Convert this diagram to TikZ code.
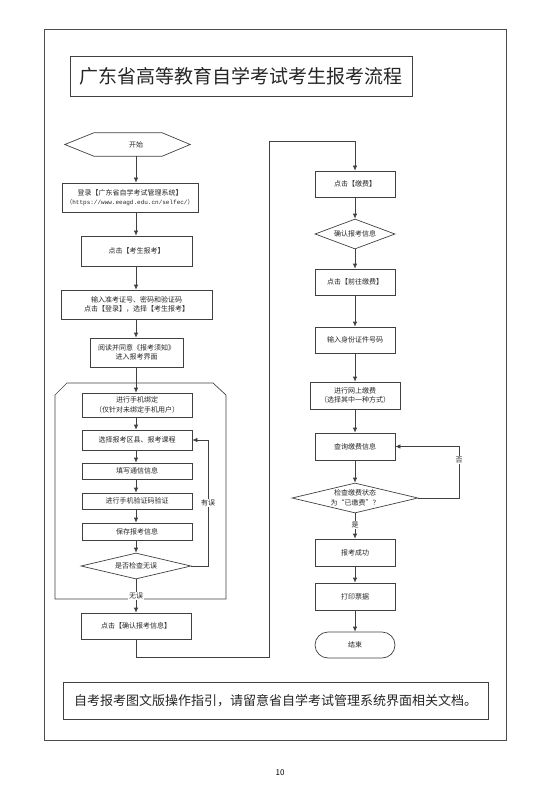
\documentclass[tikz,border=0pt]{standalone}
\usepackage{fontspec}
\setmainfont{Noto Sans CJK SC}
\newfontfamily\urlfont{Liberation Mono}
\usetikzlibrary{arrows.meta,shapes.geometric}
\tikzset{
  base/.style={font=\fontsize{7}{9.5}\selectfont, text=black!85},
  wh/.style 2 args={minimum width=#1pt, minimum height=#2pt},
  box/.style={base, draw=black!75, line width=0.7pt, rectangle, inner sep=0pt, align=center},
  dia/.style={base, draw=black!75, line width=0.7pt, diamond, inner sep=0pt, align=center},
  arr/.style={draw=black!75, line width=0.7pt, -{Latex[length=5pt,width=4.5pt]}},
  ln/.style={draw=black!75, line width=0.7pt},
  lbl/.style={base, fill=white, inner sep=1pt},
}
\begin{document}
\begin{tikzpicture}[x=1pt,y=-1pt]
\useasboundingbox (0,0) rectangle (534,786);
% outer frame
\draw[draw=black!70, line width=0.8pt] (44,29) rectangle (506,740);
% title
\node[box, wh={342}{40}, font=\fontsize{19}{22}\selectfont] (title) at (241,76) {广东省高等教育自学考试考生报考流程};
% column references
\coordinate (colL) at (136,0);
\coordinate (colR) at (355,0);
% start hexagon
\node[base, wh={125}{23}, inner sep=0pt] (start) at (127.5,144.5) {\hspace{17pt}开始};
\draw[ln] (start.west) -- ([xshift=29pt]start.north west) -- ([xshift=-28pt]start.north east) -- (start.east) -- ([xshift=-28pt]start.south east) -- ([xshift=29pt]start.south west) -- cycle;
% left column
\node[box, wh={136}{29}] (login) at (130,197.5) {登录【广东省自学考试管理系统】\\[-1pt]{\fontsize{6}{8}\selectfont （\urlfont https://www.eeagd.edu.cn/selfec/\normalfont ）}};
\node[box, wh={111}{30}] (kaosheng) at (136.5,251) {点击【考生报考】};
\node[box, wh={151}{29}] (input) at (136.5,304.5) {输入准考证号、密码和验证码\\点击【登录】，选择【考生报考】};
\node[box, wh={93}{29}] (read) at (136.5,352.5) {阅读并同意《报考须知》\\进入报考界面};
% loop container
\draw[ln] (55,599) -- (55,395) -- (67,383) -- (213,383) -- (226,395) -- (226,599) -- cycle;
\node[box, wh={110}{24}] (bind) at (137,405) {进行手机绑定\\（仅针对未绑定手机用户）};
\node[box, wh={110}{20}] (select) at (137,440) {选择报考区县、报考课程};
\node[box, wh={110}{16}] (fill) at (137,471) {填写通信信息};
\node[box, wh={110}{16}] (verify) at (137,501) {进行手机验证码验证};
\node[box, wh={110}{17}] (save) at (137,531.5) {保存报考信息};
\node[dia, wh={110}{26}, aspect=4.2] (check) at (136,566) {是否检查无误};
\node[box, wh={110}{26}] (confirm) at (136,626) {点击【确认报考信息】};
% right column
\node[box, wh={80}{26}] (pay) at (355,184) {点击【缴费】};
\node[dia, wh={80}{30}, aspect=2.67] (cinfo) at (355,234) {确认报考信息};
\node[box, wh={80}{26}] (gopay) at (355,282) {点击【前往缴费】};
\node[box, wh={80}{26}] (idin) at (355,340) {输入身份证件号码};
\node[box, wh={90}{27}] (online) at (355,395.5) {进行网上缴费\\（选择其中一种方式）};
\node[box, wh={80}{27}] (query) at (355,446.5) {查询缴费信息};
\node[dia, wh={126}{30}, aspect=4.2] (paycheck) at (355,498) {检查缴费状态\\为“已缴费”？};
\node[box, wh={80}{27}] (success) at (355,552.5) {报考成功};
\node[box, wh={80}{27}] (print) at (355,596.5) {打印票据};
\node[box, wh={80}{26}, rounded corners=13pt] (end) at (355,645) {结束};
% bottom note
\node[box, wh={425}{37}, font=\fontsize{13}{15}\selectfont] (note) at (275.5,700.5) {自考报考图文版操作指引，请留意省自学考试管理系统界面相关文档。};
\node[base, font=\fontsize{8}{9}\selectfont, text=black] (pagenum) at (280,773) {10};
% connectors left
\draw[arr] (start.south -| colL) -- (login.north -| colL);
\draw[arr] (login.south -| colL) -- (kaosheng.north -| colL);
\draw[arr] (kaosheng.south -| colL) -- (input.north -| colL);
\draw[arr] (input.south -| colL) -- (read.north -| colL);
\draw[arr] (read.south -| colL) -- (bind.north -| colL);
\draw[arr] (bind.south -| colL) -- (select.north -| colL);
\draw[arr] (select.south -| colL) -- (fill.north -| colL);
\draw[arr] (fill.south -| colL) -- (verify.north -| colL);
\draw[arr] (verify.south -| colL) -- (save.north -| colL);
\draw[arr] (save.south -| colL) -- (check.north -| colL);
\draw[arr] (check.south) -- (confirm.north -| check.south);
\node[lbl] (wuwu) at (136,596) {无误};
\draw[arr] (check.east) -- ++(17,0) |- (select.east);
\node[lbl] (youwu) at (208,503) {有误};
\draw[arr] (confirm.south) -- ++(0,18) -| (269,141) -| (pay.north);
% connectors right
\draw[arr] (pay) -- (cinfo);
\draw[arr] (cinfo) -- (gopay);
\draw[arr] (gopay) -- (idin);
\draw[arr] (idin) -- (online);
\draw[arr] (online) -- (query);
\draw[arr] (query) -- (paycheck);
\draw[arr] (paycheck) -- (success);
\node[lbl] (shi) at (355,525) {是};
\draw[arr] (success) -- (print);
\draw[arr] (print) -- (end);
\draw[arr] (paycheck.east) -- ++(41,0) |- (query.east);
\node[lbl] (fou) at (459,460) {否};
\end{tikzpicture}
\end{document}
